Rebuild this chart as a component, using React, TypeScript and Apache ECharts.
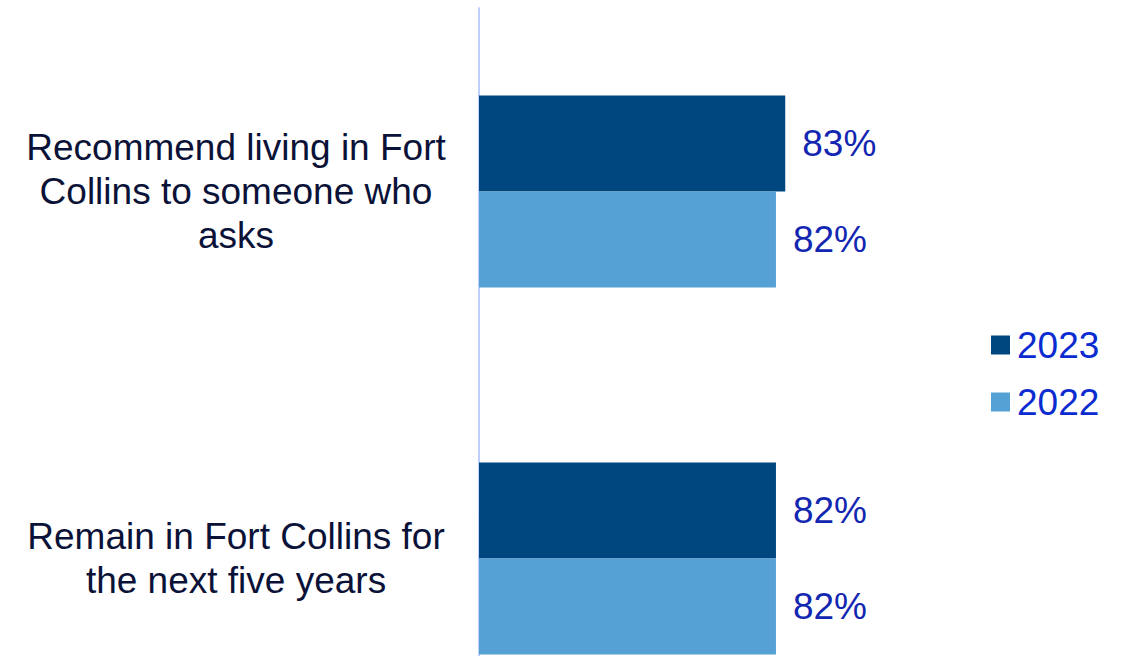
import React, { useEffect, useRef } from "react";
import * as echarts from "echarts";

const categories = [
  "Recommend living in Fort\nCollins to someone who\nasks",
  "Remain in Fort Collins for\nthe next five years",
];
const values2023 = [83, 82];
const values2022 = [82, 82];
const seriesNames = ["2023", "2022"];

const FONT = "Arial, 'Liberation Sans', sans-serif";

export default function App() {
  const ref = useRef<HTMLDivElement>(null);
  useEffect(() => {
    document.body.style.margin = "0";
    const chart = echarts.init(ref.current!, null, { renderer: "svg" });
    const label = {
      show: true,
      position: "right",
      distance: 17,
      formatter: "{c}%",
      fontSize: 37,
      fontFamily: FONT,
      color: "#1326B2",
    };
    chart.setOption({
      animation: false,
      backgroundColor: "#ffffff",
      grid: { left: 479, top: 8, width: 464, height: 734, containLabel: false },
      legend: {
        orient: "vertical",
        left: 986,
        top: 321,
        icon: "rect",
        itemWidth: 19,
        itemHeight: 19,
        itemGap: 19,
        data: seriesNames,
        textStyle: {
          fontSize: 37,
          lineHeight: 38,
          fontFamily: FONT,
          color: "#0A2BD0",
          padding: [0, 0, 0, 2],
        },
      },
      xAxis: {
        type: "value",
        min: 50,
        max: 100,
        show: false,
      },
      yAxis: {
        type: "category",
        data: categories,
        inverse: true,
        axisLine: { show: true, lineStyle: { color: "#BFCFFF", width: 2 } },
        axisTick: { show: false },
        splitLine: { show: false },
        axisLabel: {
          align: "center",
          margin: 243,
          fontSize: 37,
          lineHeight: 44,
          fontFamily: FONT,
          color: "#0B1238",
        },
      },
      series: [
        {
          name: seriesNames[0],
          type: "bar",
          data: values2023,
          barWidth: 96,
          barGap: "0%",
          itemStyle: { color: "#00467F" },
          label,
        },
        {
          name: seriesNames[1],
          type: "bar",
          data: values2022,
          barWidth: 96,
          barGap: "0%",
          itemStyle: { color: "#55A0D4" },
          label,
        },
      ],
    });
    return () => chart.dispose();
  }, []);
  return (
    <div style={{ width: 1128, height: 656, overflow: "hidden" }}>
      <div ref={ref} style={{ width: 1128, height: 760 }} />
    </div>
  );
}
